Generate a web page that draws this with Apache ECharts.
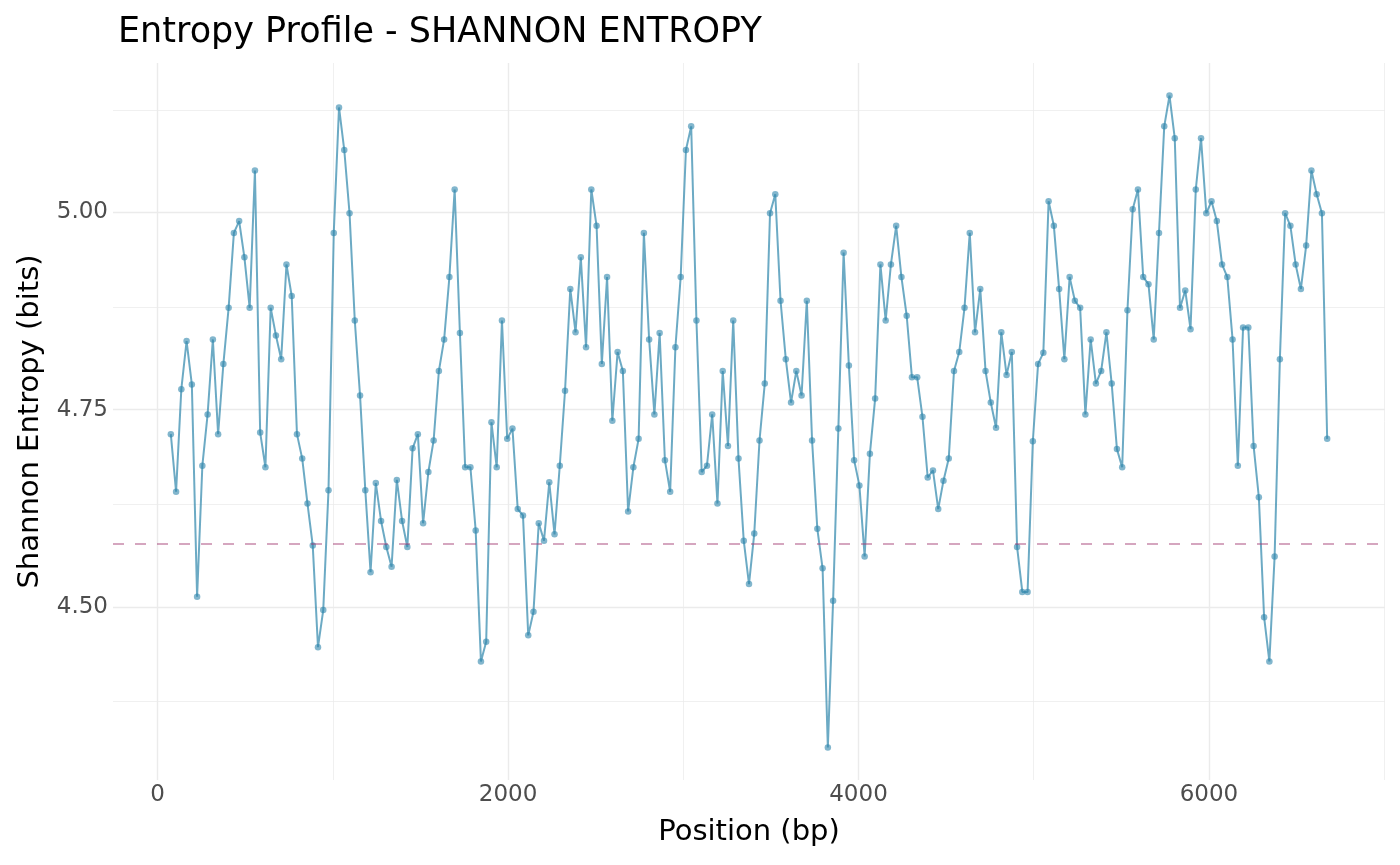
<!DOCTYPE html>
<html>
<head>
<meta charset="utf-8">
<script src="https://cdn.jsdelivr.net/npm/echarts@6/dist/echarts.min.js"></script>
<style>html,body{margin:0;padding:0;background:#fff}#c{width:1400px;height:865px}</style>
</head>
<body>
<div id="c"></div>
<script>
var positions = [
  75,105,135,165,195,225,255,285,315,345,375,405,435,465,495,525,555,585,615,645,
  675,705,735,765,795,825,855,885,915,945,975,1005,1035,1065,1095,1125,1155,1185,1215,1245,
  1275,1305,1335,1365,1395,1425,1455,1485,1515,1545,1575,1605,1635,1665,1695,1725,1755,1785,1815,1845,
  1875,1905,1935,1965,1995,2025,2055,2085,2115,2145,2175,2205,2235,2265,2295,2325,2355,2385,2415,2445,
  2475,2505,2535,2565,2595,2625,2655,2685,2715,2745,2775,2805,2835,2865,2895,2925,2955,2985,3015,3045,
  3075,3105,3135,3165,3195,3225,3255,3285,3315,3345,3375,3405,3435,3465,3495,3525,3555,3585,3615,3645,
  3675,3705,3735,3765,3795,3825,3855,3885,3915,3945,3975,4005,4035,4065,4095,4125,4155,4185,4215,4245,
  4275,4305,4335,4365,4395,4425,4455,4485,4515,4545,4575,4605,4635,4665,4695,4725,4755,4785,4815,4845,
  4875,4905,4935,4965,4995,5025,5055,5085,5115,5145,5175,5205,5235,5265,5295,5325,5355,5385,5415,5445,
  5475,5505,5535,5565,5595,5625,5655,5685,5715,5745,5775,5805,5835,5865,5895,5925,5955,5985,6015,6045,
  6075,6105,6135,6165,6195,6225,6255,6285,6315,6345,6375,6405,6435,6465,6495,6525,6555,6585,6615,6645,
  6675
];
var entropy = [
  4.719,4.646,4.776,4.837,4.782,4.513,4.679,4.744,4.839,4.719,4.808,4.879,4.974,4.989,4.943,4.879,5.053,4.721,4.677,4.879,
  4.844,4.814,4.934,4.894,4.719,4.688,4.631,4.578,4.449,4.496,4.648,4.974,5.133,5.079,4.999,4.863,4.768,4.648,4.544,4.657,
  4.609,4.576,4.551,4.661,4.609,4.576,4.701,4.719,4.606,4.671,4.711,4.799,4.839,4.918,5.029,4.847,4.677,4.677,4.597,4.431,
  4.456,4.734,4.677,4.863,4.713,4.726,4.624,4.616,4.464,4.494,4.606,4.584,4.658,4.592,4.679,4.774,4.903,4.848,4.943,4.829,
  5.029,4.983,4.808,4.918,4.736,4.823,4.799,4.621,4.677,4.713,4.974,4.839,4.744,4.847,4.686,4.646,4.829,4.918,5.079,5.109,
  4.863,4.671,4.679,4.744,4.631,4.799,4.704,4.863,4.688,4.584,4.529,4.593,4.711,4.783,4.999,5.023,4.888,4.814,4.759,4.799,
  4.768,4.888,4.711,4.599,4.549,4.322,4.508,4.726,4.949,4.806,4.686,4.654,4.564,4.694,4.764,4.934,4.863,4.934,4.983,4.918,
  4.869,4.791,4.791,4.741,4.664,4.673,4.624,4.660,4.688,4.799,4.823,4.879,4.974,4.848,4.903,4.799,4.759,4.727,4.848,4.794,
  4.823,4.576,4.519,4.519,4.710,4.808,4.822,5.014,4.983,4.903,4.814,4.918,4.888,4.879,4.744,4.839,4.783,4.799,4.848,4.783,
  4.700,4.677,4.876,5.004,5.029,4.918,4.909,4.839,4.974,5.109,5.148,5.094,4.879,4.901,4.852,5.029,5.094,4.999,5.014,4.989,
  4.934,4.918,4.839,4.679,4.854,4.854,4.704,4.639,4.487,4.431,4.564,4.814,4.999,4.983,4.934,4.903,4.958,5.053,5.023,4.999,
  4.713
];
var thresholdValue = 4.575;
var xTickLabels = [0, 2000, 4000, 6000];
var xMinorBreaks = [1000, 3000, 5000, 7000];
var yTickLabels = [4.50, 4.75, 5.00];
var yMinorBreaks = [4.375, 4.625, 4.875, 5.125];

function expand(arr) {
  var mn = Math.min.apply(null, arr), mx = Math.max.apply(null, arr), r = mx - mn;
  return [mn - 0.05 * r, mx + 0.05 * r];
}
var xr = expand(positions), yr = expand(entropy);
var pts = positions.map(function (p, i) { return [p, entropy[i]]; });

var FONT = 'DejaVu Sans';
var gridMajor = { color: '#ebebeb', width: 1.4, type: 'solid' };
var gridMinor = { color: '#ebebeb', width: 0.75, type: 'solid' };
var gridLines = [];
xMinorBreaks.forEach(function (v) { gridLines.push({ xAxis: v, lineStyle: gridMinor }); });
yMinorBreaks.forEach(function (v) { gridLines.push({ yAxis: v, lineStyle: gridMinor }); });
xTickLabels.forEach(function (v) { gridLines.push({ xAxis: v, lineStyle: gridMajor }); });
yTickLabels.forEach(function (v) { gridLines.push({ yAxis: v, lineStyle: gridMajor }); });

var chart = echarts.init(document.getElementById('c'), null, { renderer: 'canvas' });
chart.setOption({
  animation: false,
  backgroundColor: '#ffffff',
  title: {
    text: 'Entropy Profile - SHANNON ENTROPY',
    left: 113, top: 10,
    textStyle: { fontFamily: FONT, fontSize: 35, fontWeight: 'normal', color: '#000000' }
  },
  grid: { left: 113, right: 15, top: 63, bottom: 85, containLabel: false },
  xAxis: {
    type: 'value', min: xr[0], max: xr[1],
    name: 'Position (bp)', nameLocation: 'middle', nameGap: 38,
    nameTextStyle: { fontFamily: FONT, fontSize: 29, color: '#000000' },
    axisLine: { show: false }, axisTick: { show: false }, splitLine: { show: false },
    axisLabel: {
      customValues: xTickLabels, margin: 4,
      fontFamily: FONT, fontSize: 23, color: '#4d4d4d',
      formatter: function (v) { return String(Math.round(v)); }
    }
  },
  yAxis: {
    type: 'value', min: yr[0], max: yr[1],
    name: 'Shannon Entropy (bits)', nameLocation: 'middle', nameGap: 68,
    nameTextStyle: { fontFamily: FONT, fontSize: 29, color: '#000000' },
    axisLine: { show: false }, axisTick: { show: false }, splitLine: { show: false },
    axisLabel: {
      customValues: yTickLabels, margin: 5,
      fontFamily: FONT, fontSize: 23, color: '#4d4d4d',
      formatter: function (v) { return v.toFixed(2); }
    }
  },
  series: [
    {
      type: 'line', data: [], silent: true, z: 1,
      markLine: { silent: true, z: 1, symbol: ['none', 'none'], label: { show: false }, animation: false, data: gridLines }
    },
    {
      type: 'line', data: pts, z: 3, silent: true,
      showSymbol: false, symbol: 'none',
      lineStyle: { color: 'rgba(46,134,171,0.7)', width: 2 }
    },
    {
      type: 'scatter', data: pts, z: 4, silent: true,
      symbol: 'circle', symbolSize: 6.5,
      itemStyle: { color: 'rgba(46,134,171,0.6)', borderWidth: 0, opacity: 1 }
    },
    {
      type: 'line', data: [], silent: true, z: 6,
      markLine: {
        silent: true, z: 6, symbol: ['none', 'none'], label: { show: false }, animation: false,
        data: [{ yAxis: thresholdValue }],
        lineStyle: { color: 'rgba(162,59,114,0.6)', width: 1.7, type: [11, 11] }
      }
    }
  ]
});
</script>
</body>
</html>
